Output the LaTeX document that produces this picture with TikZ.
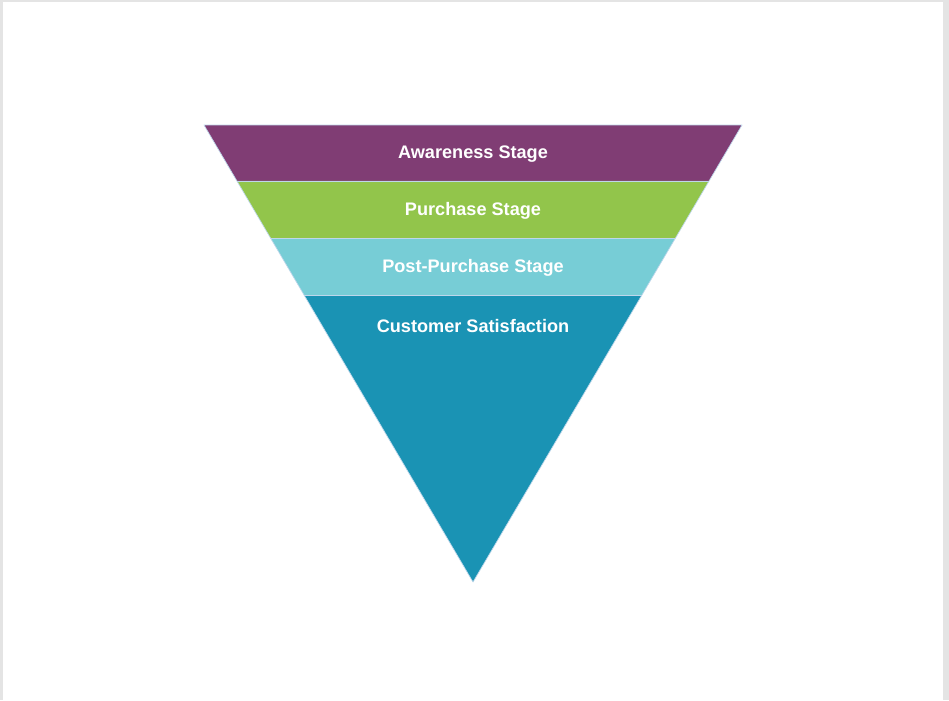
\documentclass[tikz,border=0pt]{standalone}
\usepackage{fontspec}
\setmainfont{Liberation Sans}
\usetikzlibrary{calc}

\definecolor{framegray}{RGB}{228,228,228}
\definecolor{awareness}{RGB}{128,61,116}
\definecolor{purchase}{RGB}{146,197,75}
\definecolor{postpurchase}{RGB}{119,205,214}
\definecolor{satisfaction}{RGB}{26,147,180}
\definecolor{bandline}{RGB}{190,215,235}

\begin{document}
\begin{tikzpicture}[x=0.75pt, y=-0.75pt,
        band_style/.style={draw=bandline, line width=0.5pt, line join=round},
        label_style/.style={text=white, font=\bfseries\fontsize{13.6}{16}\selectfont}]

        \useasboundingbox (0,0) rectangle (949,700);
        \fill [framegray] (0,0) rectangle (949,700);
        \fill [white] (3,2) rectangle (943,700);

        \coordinate (tl) at (204,125);
        \coordinate (tr) at (742,125);
        \coordinate (apex) at (473,582);

        \coordinate (l1) at ($(tl)!0.1225!(apex)$);
        \coordinate (r1) at ($(tr)!0.1225!(apex)$);
        \coordinate (l2) at ($(tl)!0.2473!(apex)$);
        \coordinate (r2) at ($(tr)!0.2473!(apex)$);
        \coordinate (l3) at ($(tl)!0.372!(apex)$);
        \coordinate (r3) at ($(tr)!0.372!(apex)$);

        \fill [awareness] (tl) -- (tr) -- (r1) -- (l1) -- cycle;
        \fill [purchase] (l1) -- (r1) -- (r2) -- (l2) -- cycle;
        \fill [postpurchase] (l2) -- (r2) -- (r3) -- (l3) -- cycle;
        \fill [satisfaction] (l3) -- (r3) -- (apex) -- cycle;

        \draw [band_style] (l1) -- (r1);
        \draw [band_style] (l2) -- (r2);
        \draw [band_style] (l3) -- (r3);
        \draw [band_style] (tl) -- (tr) -- (apex) -- cycle;

        \node [label_style](s1) at (473,154) {Awareness Stage};

        \node [label_style](s2) at (473,211) {Purchase Stage};

        \node [label_style](s3) at (473,268) {Post-Purchase Stage};

        \node [label_style](s4) at (473,326) {Customer Satisfaction};

        \end{tikzpicture}
\end{document}
